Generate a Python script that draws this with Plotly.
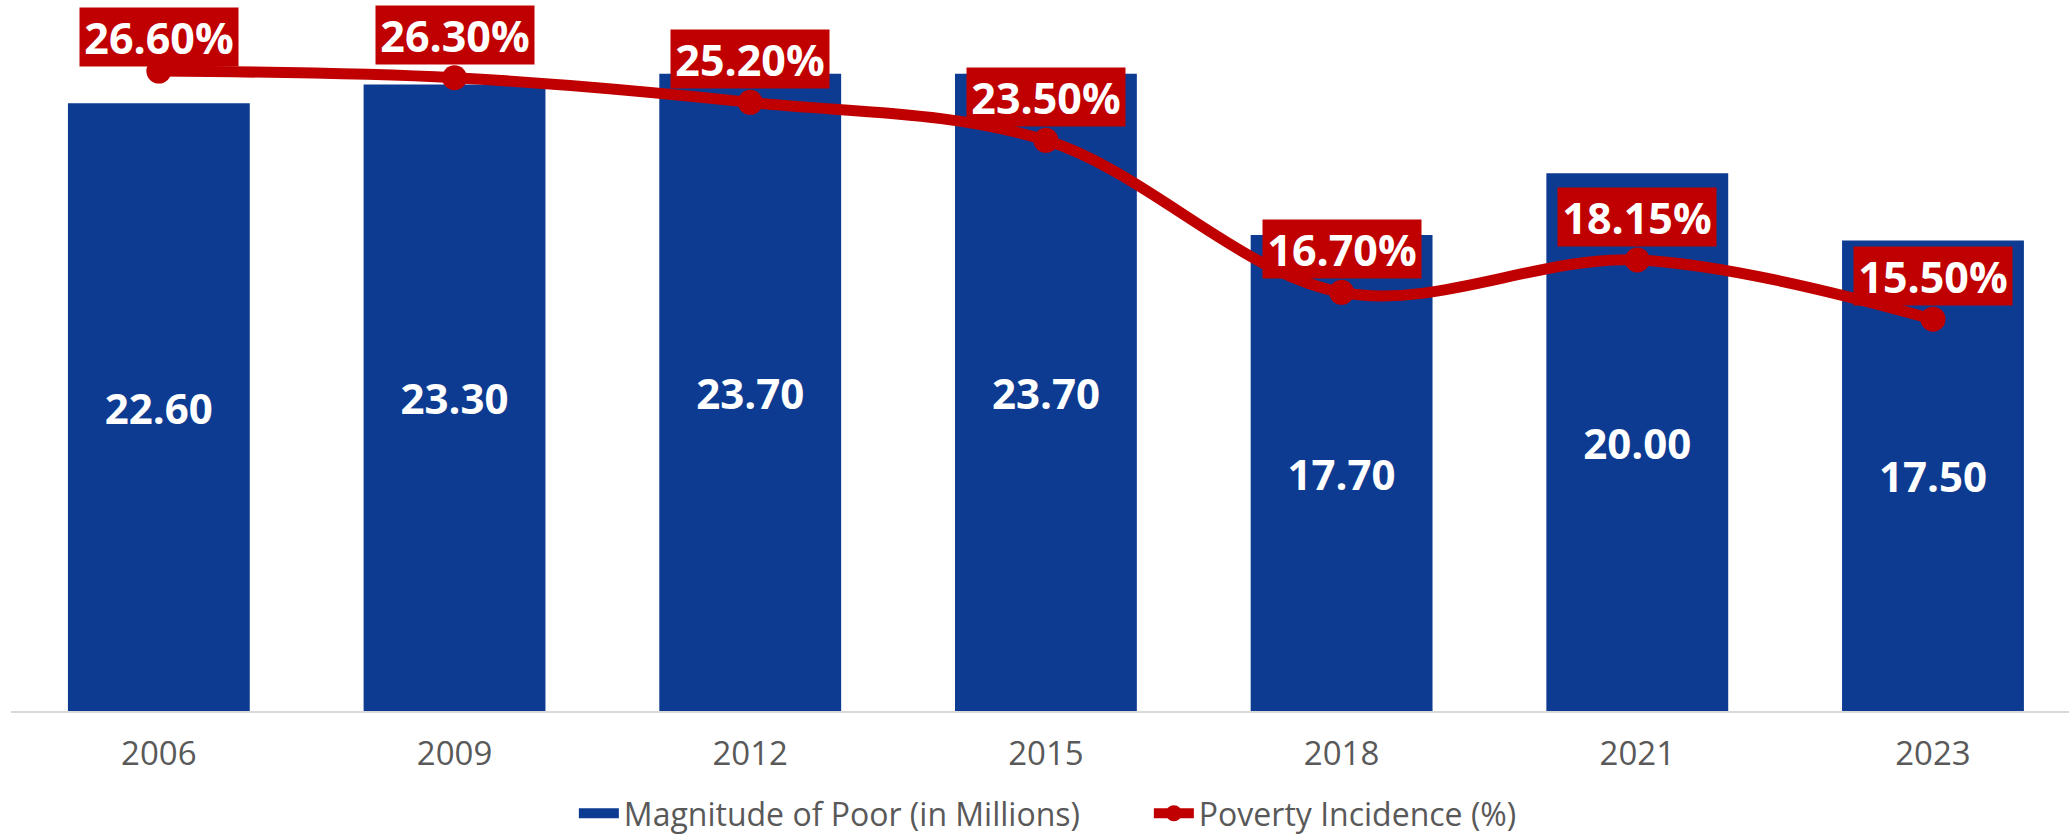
import plotly.graph_objects as go

years = ["2006", "2009", "2012", "2015", "2018", "2021", "2023"]
poor_millions = [22.60, 23.30, 23.70, 23.70, 17.70, 20.00, 17.50]
poverty_incidence = [26.60, 26.30, 25.20, 23.50, 16.70, 18.15, 15.50]

BLUE = "#0D3B91"
RED = "#C00000"
GRAY = "#595959"

fig = go.Figure()

fig.add_trace(go.Bar(
    x=years, y=poor_millions, name="Magnitude of Poor (in Millions)",
    marker=dict(color=BLUE, line=dict(width=0)),
    texttemplate="%{y:.2f}", textposition="inside", insidetextanchor="middle",
    textangle=0,
    textfont=dict(family="Open Sans", size=42, color="white", weight="bold"),
    cliponaxis=False, yaxis="y", showlegend=False,
))

# legend proxy for the bars (wide rectangle swatch)
fig.add_trace(go.Scatter(
    x=[None], y=[None], mode="lines", name="Magnitude of Poor (in Millions)",
    line=dict(color=BLUE, width=16), yaxis="y",
))

fig.add_trace(go.Scatter(
    x=years, y=poverty_incidence, name="Poverty Incidence (%)",
    mode="lines+markers",
    line=dict(color=RED, width=11, shape="spline", smoothing=1.0),
    marker=dict(color=RED, size=25),
    cliponaxis=False, yaxis="y2",
))

annotations = []
for i, v in enumerate(poverty_incidence):
    annotations.append(dict(
        x=i, y=v, xref="x", yref="y2", showarrow=False,
        text=f"{v:.2f}%", yshift=34 if i == 0 else 43,
        font=dict(family="Open Sans", size=43, color="white", weight="bold"),
        bgcolor=RED, borderpad=4, width=150, height=50, align="center",
        valign="middle", xanchor="center", yanchor="middle",
    ))

fig.update_layout(
    width=2069, height=836,
    margin=dict(l=11, r=0, t=0, b=125, autoexpand=False),
    plot_bgcolor="white", paper_bgcolor="white",
    bargap=0.385,
    showlegend=True,
    legend=dict(
        orientation="h", x=0.2735, xanchor="left", xref="paper",
        yref="container", y=0.027, yanchor="middle",
        font=dict(family="Open Sans", size=32, color=GRAY),
        traceorder="normal", itemwidth=40,
        entrywidth=520, entrywidthmode="pixels",
    ),
    xaxis=dict(
        type="category", range=[-0.5, 6.46], automargin=False,
        showline=True, linecolor="#D9D9D9", linewidth=2,
        showgrid=False, zeroline=False, ticks="",
        tickfont=dict(family="Open Sans", size=33, color=GRAY),
        ticklabelstandoff=12,
    ),
    yaxis=dict(range=[0, 26.44], visible=False, showgrid=False, zeroline=False),
    yaxis2=dict(range=[-2.03, 29.78], overlaying="y", side="right",
                visible=False, showgrid=False, zeroline=False),
    annotations=annotations,
)

fig.write_html("out.html", config={"displayModeBar": False},
               post_script="document.body.style.margin='0';document.body.style.overflow='hidden';")
